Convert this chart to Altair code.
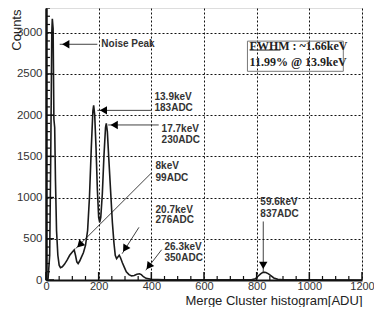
import altair as alt
import pandas as pd

# ---- histogram line (ADU, counts) ----
adu = [0, 8, 14, 18, 22, 24, 27, 30, 33, 36, 40, 45, 50, 55, 62, 70, 80, 90, 100, 107,
       112, 117, 122, 128, 135, 142, 150, 158, 165, 172, 178, 181, 185, 190, 195, 200,
       204, 208, 214, 220, 226, 229, 233, 238, 245, 252, 258, 263, 268, 273, 278, 283,
       290, 298, 305, 315, 325, 335, 345, 355, 362, 370, 380, 400, 450, 500, 600, 700,
       780, 795, 805, 815, 825, 835, 845, 855, 865, 880, 900, 1000, 1200]
counts = [0, 20, 300, 1500, 3000, 3170, 3050, 1950, 1850, 1200, 600, 300, 180, 150, 160,
          190, 240, 300, 340, 365, 300, 220, 200, 230, 280, 330, 420, 600, 1000, 1600,
          2050, 2120, 2000, 1600, 1100, 760, 700, 760, 1050, 1500, 1850, 1900, 1800, 1500,
          1100, 700, 450, 300, 260, 280, 300, 270, 210, 150, 100, 65, 50, 55, 70, 75, 65,
          40, 20, 8, 3, 2, 2, 2, 3, 15, 45, 75, 95, 90, 75, 50, 25, 8, 2, 1, 0]

# ---- axis ticks ----
x_major = [0, 200, 400, 600, 800, 1000, 1200]
x_minor = [v for v in range(0, 1201, 50) if v % 200 != 0]
y_major = [0, 500, 1000, 1500, 2000, 2500, 3000]
y_minor = [v for v in range(0, 3301, 100) if v % 500 != 0]

# ---- annotations (data coordinates) ----
ann_line1 = ["Noise Peak", "13.9keV", "17.7keV", "8keV", "20.7keV", "26.3keV", "59.6keV"]
ann_line2 = ["", "183ADC", "230ADC", "99ADC", "276ADC", "350ADC", "837ADC"]
ann_tx = [210, 412, 439, 416, 416, 450, 814]
ann_ty1 = [2860, 2224, 1834, 1384, 852, 402, 946]
ann_ty2 = [0, 2082, 1704, 1242, 722, 272, 804]
arr_x1 = [195, 401, 428, 401, 353, 439, 825]
arr_y1 = [2860, 2058, 1881, 1301, 639, 367, 710]
arr_x2 = [52, 195, 236, 112, 289, 379, 825]
arr_y2 = [2860, 2058, 1881, 379, 319, 118, 106]
head_x = [75, 218, 259, 128, 300, 390, 825]
head_y = [2860, 2058, 1881, 426, 379, 166, 177]
head_angle = [270, 270, 270, 225, 212, 217, 180]

fwhm_lines = ["FWHM : ~1.66keV", "11.99% @ 13.9keV"]
fwhm_y = [2839, 2650]
fwhm_x = 773
box = dict(x=765, x2=1129, y=2898, y2=2532)

XDOM = [0, 1200]
YDOM = [0, 3300]
W, H = 316, 272

xs = alt.Scale(domain=XDOM, nice=False, zero=False)
ys = alt.Scale(domain=YDOM, nice=False, zero=False)

hist = pd.DataFrame({"adu": adu, "counts": counts})

base_line = alt.Chart(hist).mark_line(color="#1a1a1a", strokeWidth=1.6, interpolate="linear", clip=True).encode(
    x=alt.X("adu:Q", scale=xs,
            axis=alt.Axis(values=x_major, format="d", title="Merge Cluster histogram[ADU]", titleAnchor="end",
                          titleFontSize=13, titleFontWeight="normal", titleColor="#222",
                          titleFont="Liberation Sans", titleY=24, titleBaseline="alphabetic",
                          labelFont="Liberation Sans", labelFontSize=11, labelColor="#333",
                          labelPadding=0, ticks=False, grid=True, gridDash=[2, 2],
                          gridColor="#111", gridWidth=1, domainColor="#111", domainWidth=2,
                          labelFlush=False)),
    y=alt.Y("counts:Q", scale=ys,
            axis=alt.Axis(values=y_major, format="d", title="Counts", titleAnchor="end",
                          titleFontSize=13, titleFontWeight="normal", titleColor="#222",
                          titleFont="Liberation Sans", titleX=-23, titleY=1, titleAlign="right",
                          titleBaseline="bottom",
                          labelFont="Liberation Sans", labelFontSize=11.5, labelColor="#333",
                          labelPadding=4, ticks=False, grid=True, gridDash=[2, 2],
                          gridColor="#111", gridWidth=1, domainColor="#111", domainWidth=2.5,
                          labelFlush=False)),
)

ymaj = alt.Chart(pd.DataFrame({"v": y_major})).mark_rule(color="#111", strokeWidth=1.5).encode(
    y=alt.Y("v:Q", scale=ys), x=alt.value(0), x2=alt.value(8))
ymin = alt.Chart(pd.DataFrame({"v": y_minor})).mark_rule(color="#111", strokeWidth=1.2).encode(
    y=alt.Y("v:Q", scale=ys), x=alt.value(0), x2=alt.value(4))
xmaj = alt.Chart(pd.DataFrame({"v": x_major})).mark_rule(color="#111", strokeWidth=1.5).encode(
    x=alt.X("v:Q", scale=xs), y=alt.value(H), y2=alt.value(H - 8))
xmin = alt.Chart(pd.DataFrame({"v": x_minor})).mark_rule(color="#111", strokeWidth=1.2).encode(
    x=alt.X("v:Q", scale=xs), y=alt.value(H), y2=alt.value(H - 4))

arrows = pd.DataFrame({"x1": arr_x1, "y1": arr_y1, "x2": arr_x2, "y2": arr_y2,
                       "hx": head_x, "hy": head_y, "ang": head_angle})
arrow_lines = alt.Chart(arrows).mark_rule(color="#111", strokeWidth=0.8).encode(
    x=alt.X("x1:Q", scale=xs), y=alt.Y("y1:Q", scale=ys), x2="x2:Q", y2="y2:Q")
heads = alt.Chart(arrows).mark_point(shape="triangle-up", filled=True, color="#000",
                                     opacity=1, size=70).encode(
    x=alt.X("hx:Q", scale=xs), y=alt.Y("hy:Q", scale=ys), angle=alt.Angle("ang:Q", scale=None))

labels = pd.DataFrame({"t1": ann_line1, "t2": ann_line2, "x": ann_tx, "y1": ann_ty1, "y2": ann_ty2})
lab1 = alt.Chart(labels).mark_text(align="left", baseline="middle", font="Liberation Sans",
                                   fontWeight="bold", fontSize=10, color="#333").encode(
    x=alt.X("x:Q", scale=xs), y=alt.Y("y1:Q", scale=ys), text="t1:N")
lab2 = alt.Chart(labels[labels.t2 != ""]).mark_text(align="left", baseline="middle", font="Liberation Sans",
                                                    fontWeight="bold", fontSize=10, color="#333").encode(
    x=alt.X("x:Q", scale=xs), y=alt.Y("y2:Q", scale=ys), text="t2:N")

boxdf = pd.DataFrame([box])
fbox = alt.Chart(boxdf).mark_rect(fill="white", fillOpacity=0.0, stroke="#777", strokeWidth=1).encode(
    x=alt.X("x:Q", scale=xs), x2="x2:Q", y=alt.Y("y:Q", scale=ys), y2="y2:Q")
fwhm = alt.Chart(pd.DataFrame({"t": fwhm_lines, "y": fwhm_y, "x": [fwhm_x] * 2})).mark_text(
    align="left", baseline="middle", font="Liberation Serif", fontWeight="bold", fontSize=12,
    color="#222").encode(x=alt.X("x:Q", scale=xs), y=alt.Y("y:Q", scale=ys), text="t:N")
underline = alt.Chart(pd.DataFrame({"x": [fwhm_x], "x2": [890], "y": [2790]})).mark_rule(
    color="#222", strokeWidth=1).encode(x=alt.X("x:Q", scale=xs), x2="x2:Q", y=alt.Y("y:Q", scale=ys))

chart = alt.layer(base_line, ymin, ymaj, xmin, xmaj, arrow_lines, heads, lab1, lab2,
                  fbox, fwhm, underline).properties(
    width=W, height=H,
    autosize=alt.AutoSizeParams(type="none"),
    padding={"left": 38, "top": 0, "right": 12, "bottom": 27},
).configure_view(stroke="#111", strokeWidth=1.5).configure(background="white")

chart.save("out.html", embed_options={"renderer": "svg", "actions": False})
